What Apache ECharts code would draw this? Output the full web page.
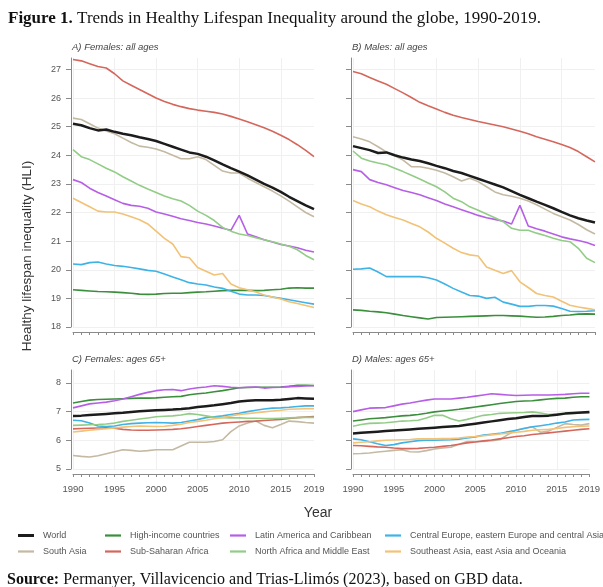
<!DOCTYPE html>
<html><head><meta charset="utf-8">
<script src="https://cdn.jsdelivr.net/npm/echarts@6/dist/echarts.min.js"></script>
<style>html,body{margin:0;padding:0;background:#fff}#c{width:603px;height:587px}</style>
</head><body><div id="c"></div>
<script>
const years = [];
for (let y = 1990; y <= 2019; y++) years.push(String(y));
const xLabels = ['1990','1995','2000','2005','2010','2015','2019'];
const topTicks = [18,19,20,21,22,23,24,25,26,27];
const botTicks = [5,6,7,8];

const regions = ['World','High-income countries','Latin America and Caribbean','Central Europe, eastern Europe and central Asia',
  'South Asia','Sub-Saharan Africa','North Africa and Middle East','Southeast Asia, east Asia and Oceania'];
const colors = ['#1c1c1c','#3b8e3b','#b65fe6','#3fb3e6','#c4b9a2','#d4675c','#92cc86','#f2c276'];

// A) Females: all ages
const A_world = [25.1,25.05,24.95,24.87,24.9,24.82,24.75,24.7,24.63,24.57,24.5,24.4,24.3,24.2,24.1,24.05,23.95,23.82,23.68,23.55,23.43,23.3,23.15,23.0,22.87,22.72,22.55,22.4,22.25,22.12];
const A_high = [19.3,19.28,19.26,19.24,19.23,19.22,19.2,19.18,19.15,19.14,19.15,19.17,19.18,19.18,19.2,19.22,19.23,19.25,19.27,19.28,19.28,19.28,19.27,19.28,19.3,19.32,19.36,19.37,19.36,19.36];
const A_latam = [23.15,23.05,22.85,22.7,22.58,22.45,22.32,22.25,22.22,22.15,22.02,21.95,21.87,21.78,21.72,21.65,21.6,21.53,21.45,21.38,21.9,21.25,21.15,21.05,20.97,20.88,20.83,20.77,20.68,20.62];
const A_ceeca = [20.2,20.18,20.25,20.27,20.2,20.15,20.12,20.08,20.03,19.98,19.95,19.85,19.75,19.65,19.55,19.5,19.47,19.4,19.35,19.25,19.15,19.12,19.12,19.1,19.05,19.0,18.95,18.9,18.85,18.8];
const A_sasia = [25.3,25.25,25.1,24.95,24.85,24.75,24.6,24.45,24.32,24.28,24.22,24.12,24.0,23.88,23.88,23.95,23.85,23.65,23.45,23.38,23.38,23.2,23.05,22.9,22.75,22.58,22.4,22.2,22.0,21.85];
const A_ssa = [27.35,27.3,27.2,27.1,27.05,26.85,26.6,26.45,26.3,26.15,26.0,25.88,25.78,25.7,25.63,25.58,25.54,25.5,25.44,25.36,25.27,25.17,25.07,24.96,24.84,24.7,24.55,24.37,24.17,23.95];
const A_mena = [24.2,23.95,23.85,23.7,23.55,23.42,23.25,23.1,22.95,22.82,22.7,22.58,22.48,22.4,22.25,22.05,21.9,21.72,21.48,21.35,21.25,21.2,21.12,21.05,20.98,20.9,20.82,20.7,20.5,20.35];
const A_seasia = [22.5,22.35,22.2,22.05,22.02,22.02,21.95,21.85,21.75,21.6,21.35,21.1,20.9,20.46,20.42,20.08,19.95,19.82,19.87,19.5,19.37,19.3,19.22,19.12,19.05,18.98,18.88,18.82,18.75,18.68];

// B) Males: all ages
const B_world = [24.32,24.25,24.18,24.08,24.1,24.0,23.92,23.85,23.8,23.72,23.63,23.55,23.45,23.38,23.28,23.18,23.08,22.98,22.88,22.75,22.62,22.5,22.38,22.27,22.15,22.02,21.9,21.8,21.72,21.65];
const B_high = [18.6,18.58,18.55,18.53,18.5,18.45,18.4,18.36,18.32,18.28,18.33,18.34,18.35,18.36,18.37,18.38,18.39,18.4,18.4,18.39,18.38,18.36,18.34,18.35,18.37,18.4,18.42,18.45,18.46,18.45];
const B_latam = [23.5,23.43,23.15,23.05,22.97,22.87,22.77,22.7,22.62,22.52,22.42,22.3,22.2,22.1,22.0,21.9,21.82,21.76,21.7,21.6,22.25,21.53,21.43,21.35,21.25,21.15,21.08,21.02,20.95,20.85];
const B_ceeca = [20.02,20.03,20.06,19.92,19.76,19.76,19.76,19.76,19.76,19.72,19.64,19.5,19.35,19.22,19.1,19.08,19.0,19.04,18.87,18.8,18.72,18.72,18.75,18.75,18.73,18.65,18.55,18.54,18.55,18.57];
const B_sasia = [24.65,24.57,24.47,24.3,24.12,23.98,23.83,23.6,23.6,23.55,23.48,23.38,23.25,23.1,23.2,23.08,22.9,22.72,22.62,22.57,22.5,22.4,22.27,22.12,21.97,21.85,21.74,21.58,21.4,21.25];
const B_ssa = [26.93,26.85,26.72,26.6,26.48,26.33,26.18,26.02,25.85,25.73,25.62,25.5,25.4,25.32,25.25,25.18,25.12,25.06,25.0,24.92,24.84,24.75,24.65,24.56,24.47,24.38,24.27,24.13,23.95,23.77];
const B_mena = [24.15,23.9,23.8,23.73,23.67,23.55,23.43,23.3,23.17,23.03,22.9,22.72,22.5,22.38,22.2,22.08,21.95,21.82,21.68,21.45,21.38,21.38,21.28,21.2,21.1,21.02,20.98,20.75,20.4,20.25];
const B_seasia = [22.42,22.3,22.2,22.05,21.92,21.83,21.74,21.62,21.5,21.32,21.1,20.93,20.75,20.6,20.52,20.48,20.1,19.98,19.87,19.97,19.58,19.38,19.17,19.1,19.05,18.9,18.76,18.7,18.65,18.6];

// C) Females: ages 65+
const C_world = [6.85,6.86,6.88,6.9,6.92,6.94,6.96,6.99,7.01,7.03,7.05,7.06,7.07,7.09,7.12,7.16,7.19,7.22,7.26,7.3,7.35,7.38,7.4,7.4,7.4,7.41,7.44,7.47,7.46,7.45];
const C_high = [7.3,7.35,7.4,7.42,7.43,7.44,7.45,7.46,7.47,7.47,7.48,7.5,7.52,7.53,7.59,7.62,7.65,7.69,7.73,7.78,7.83,7.84,7.85,7.85,7.85,7.86,7.88,7.92,7.92,7.91];
const C_latam = [7.13,7.2,7.27,7.3,7.33,7.38,7.44,7.52,7.6,7.67,7.73,7.76,7.77,7.73,7.79,7.83,7.86,7.9,7.88,7.85,7.83,7.85,7.86,7.82,7.84,7.85,7.87,7.88,7.89,7.9];
const C_ceeca = [6.7,6.68,6.6,6.5,6.48,6.5,6.55,6.58,6.6,6.61,6.62,6.61,6.6,6.62,6.67,6.72,6.79,6.82,6.85,6.9,6.94,7.0,7.05,7.09,7.12,7.13,7.15,7.18,7.2,7.2];
const C_sasia = [5.47,5.44,5.42,5.46,5.53,5.6,5.67,5.65,5.62,5.64,5.67,5.67,5.67,5.8,5.93,5.93,5.93,5.96,6.02,6.3,6.5,6.6,6.67,6.52,6.44,6.55,6.67,6.65,6.62,6.6];
const C_ssa = [6.4,6.41,6.42,6.43,6.44,6.42,6.38,6.36,6.35,6.35,6.36,6.37,6.38,6.4,6.44,6.48,6.52,6.56,6.6,6.62,6.64,6.66,6.67,6.69,6.71,6.73,6.76,6.79,6.81,6.83];
const C_mena = [6.52,6.53,6.54,6.55,6.57,6.6,6.66,6.7,6.74,6.78,6.82,6.84,6.85,6.88,6.93,6.9,6.85,6.8,6.79,6.78,6.78,6.77,6.77,6.76,6.76,6.77,6.78,6.79,6.8,6.8];
const C_seasia = [6.29,6.32,6.35,6.38,6.4,6.43,6.46,6.48,6.5,6.49,6.48,6.49,6.52,6.56,6.62,6.66,6.7,6.75,6.79,6.85,6.9,6.93,6.96,6.99,7.02,7.05,7.08,7.09,7.1,7.1];

// D) Males: ages 65+
const D_world = [6.24,6.26,6.28,6.3,6.32,6.34,6.36,6.38,6.4,6.42,6.44,6.46,6.48,6.5,6.54,6.58,6.62,6.66,6.7,6.74,6.77,6.81,6.85,6.85,6.86,6.89,6.93,6.95,6.97,6.99];
const D_high = [6.67,6.71,6.75,6.77,6.79,6.82,6.85,6.87,6.9,6.94,6.99,7.02,7.05,7.08,7.12,7.16,7.2,7.24,7.28,7.32,7.35,7.37,7.38,7.41,7.44,7.46,7.47,7.5,7.52,7.52];
const D_latam = [7.0,7.06,7.12,7.13,7.14,7.2,7.26,7.3,7.35,7.4,7.44,7.44,7.44,7.47,7.5,7.54,7.58,7.62,7.6,7.58,7.56,7.57,7.58,7.58,7.58,7.59,7.6,7.62,7.64,7.64];
const D_ceeca = [6.05,6.02,5.95,5.88,5.82,5.85,5.91,5.95,5.99,6.0,6.0,6.01,6.02,6.04,6.08,6.12,6.18,6.21,6.24,6.3,6.35,6.41,6.47,6.51,6.55,6.6,6.64,6.71,6.72,6.73];
const D_sasia = [5.53,5.54,5.56,5.59,5.62,5.65,5.67,5.6,5.59,5.64,5.7,5.73,5.76,5.86,5.96,5.96,5.96,5.99,6.02,6.2,6.35,6.42,6.47,6.28,6.32,6.45,6.58,6.55,6.53,6.58];
const D_ssa = [5.82,5.81,5.79,5.77,5.76,5.73,5.71,5.71,5.72,5.74,5.76,5.79,5.82,5.86,5.91,5.94,5.98,6.01,6.05,6.09,6.13,6.16,6.2,6.23,6.26,6.29,6.32,6.35,6.38,6.4];
const D_mena = [6.49,6.55,6.59,6.6,6.61,6.64,6.67,6.68,6.7,6.78,6.87,6.87,6.75,6.67,6.73,6.8,6.87,6.9,6.94,6.95,6.96,6.97,6.99,6.95,6.9,6.92,6.94,6.94,6.95,6.95];
const D_seasia = [5.91,5.93,5.95,5.98,6.0,6.01,6.02,6.03,6.05,6.05,6.05,6.06,6.06,6.08,6.11,6.13,6.16,6.19,6.22,6.25,6.28,6.31,6.35,6.37,6.38,6.41,6.45,6.47,6.49,6.5];

const panels = [
  {title:'A) Females: all ages', data:[A_world,A_high,A_latam,A_ceeca,A_sasia,A_ssa,A_mena,A_seasia]},
  {title:'B) Males: all ages', data:[B_world,B_high,B_latam,B_ceeca,B_sasia,B_ssa,B_mena,B_seasia]},
  {title:'C) Females: ages 65+', data:[C_world,C_high,C_latam,C_ceeca,C_sasia,C_ssa,C_mena,C_seasia]},
  {title:'D) Males: ages 65+', data:[D_world,D_high,D_latam,D_ceeca,D_sasia,D_ssa,D_mena,D_seasia]}
];

const SANS = 'Liberation Sans, Arial, sans-serif';
const SERIF = 'Liberation Serif, Times New Roman, serif';
const gridPos = [
  {left:73, top:58, width:241, height:269},
  {left:353, top:58, width:242, height:269},
  {left:73, top:370, width:241, height:99},
  {left:353, top:370, width:242, height:99}
];
const yRange = [[18,27.4],[18,27.4],[5,8.45],[5,8.45]];
const axisCol = '#8a8a8a';

const grids = [], xAxes = [], yAxes = [], series = [], titles = [];
panels.forEach((p, i) => {
  const g = gridPos[i];
  grids.push(Object.assign({containLabel:false}, g));
  const isBottom = i >= 2, isLeft = i % 2 === 0;
  xAxes.push({
    type:'category', gridIndex:i, data:years, boundaryGap:false, offset:5,
    axisLine:{lineStyle:{color:axisCol, width:1}},
    axisTick:{show:true, interval:0, length:3, lineStyle:{color:axisCol}},
    axisLabel:{show:isBottom, interval:(idx, v) => xLabels.includes(v), color:'#555', fontSize:9.5, fontFamily:SANS, margin:10},
    splitLine:{show:true, interval:(idx, v) => (idx % 5 === 0), lineStyle:{color:'#f0f0f0', width:1}}
  });
  const ticks = isBottom ? botTicks : topTicks;
  yAxes.push({
    type:'value', gridIndex:i, min:yRange[i][0], max:yRange[i][1], offset:2,
    axisLine:{show:true, lineStyle:{color:axisCol, width:1}},
    axisTick:{show:true, length:5, customValues:ticks, lineStyle:{color:axisCol}},
    axisLabel:{show:isLeft, customValues:ticks, color:'#555', fontSize:9, fontFamily:SANS, margin:10},
    splitLine:{show:true, lineStyle:{color:'#f0f0f0', width:1}}
  });
  titles.push({text:p.title, left:g.left - 1, top:g.top - 16, padding:0,
    textStyle:{fontSize:9.5, fontStyle:'italic', fontWeight:'normal', color:'#444', fontFamily:SANS}});
  const order = [4,1,2,3,5,6,7,0];
  order.forEach(k => {
    series.push({
      name:regions[k], type:'line', xAxisIndex:i, yAxisIndex:i, data:p.data[k],
      symbol:'none', smooth:false, silent:true, z: k === 0 ? 5 : 3,
      lineStyle:{color:colors[k], width:k === 0 ? 2.5 : 1.6},
      itemStyle:{color:colors[k]}
    });
  });
});

titles.push({
  text:'{b|Figure 1.} Trends in Healthy Lifespan Inequality around the globe, 1990-2019.',
  left:8, top:10, padding:0,
  textStyle:{fontSize:17, fontWeight:'normal', color:'#111', fontFamily:SERIF,
    rich:{b:{fontSize:17, fontWeight:'bold', color:'#111', fontFamily:SERIF}}}
});
titles.push({
  text:'{b|Source:} Permanyer, Villavicencio and Trias-Llimós (2023), based on GBD data.',
  left:7, top:572, padding:0,
  textStyle:{fontSize:16, fontWeight:'normal', color:'#111', fontFamily:SERIF,
    rich:{b:{fontSize:16, fontWeight:'bold', color:'#111', fontFamily:SERIF}}}
});

const legendPos = [[18,531],[105,531],[230,531],[385,531],[18,547],[105,547],[230,547],[385,547]];
const legends = regions.map((r, k) => ({
  data:[r], left:legendPos[k][0], top:legendPos[k][1], padding:0,
  icon:'rect', itemWidth:16, itemHeight:k === 0 ? 3 : 2.2, itemGap:0,
  textStyle:{fontSize:9, color:'#555', fontFamily:SANS, padding:[0,0,0,4]},
  selectedMode:false
}));

const chart = echarts.init(document.getElementById('c'), null, {renderer:'canvas'});
chart.setOption({
  backgroundColor:'#fff',
  animation:false,
  title:titles,
  legend:legends,
  grid:grids,
  xAxis:xAxes,
  yAxis:yAxes,
  series:series,
  graphic:[
    {type:'text', x:27, y:256, rotation:Math.PI/2,
      style:{text:'Healthy lifespan inequality (HLI)', font:'13.5px ' + SANS, fill:'#333', align:'center', verticalAlign:'middle'}},
    {type:'text', x:318, y:513, style:{text:'Year', font:'14px ' + SANS, fill:'#333', align:'center', verticalAlign:'middle'}}
  ]
});
</script></body></html>
